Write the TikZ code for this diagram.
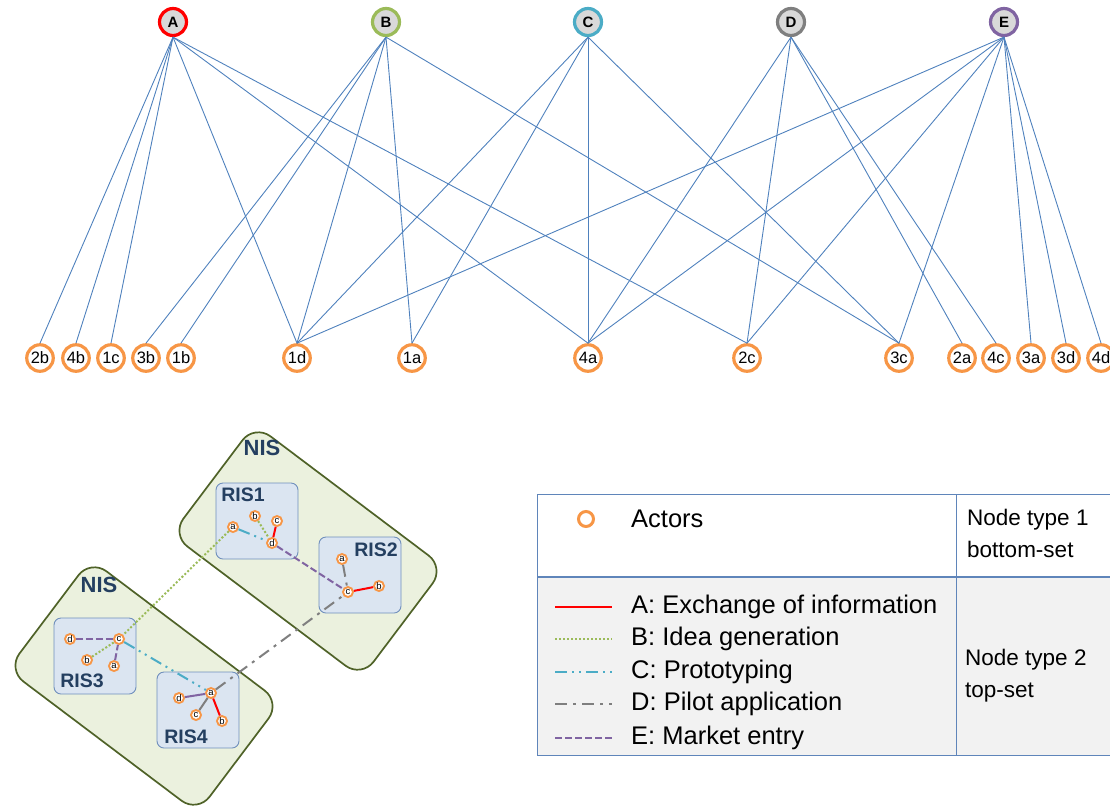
\documentclass[tikz,border=0pt]{standalone}
\usepackage{fontspec}
\setmainfont{Liberation Sans}
\usetikzlibrary{positioning}

\definecolor{tieblue}{HTML}{4F81BD}
\definecolor{actororange}{HTML}{F79646}
\definecolor{phasered}{HTML}{FF0000}
\definecolor{phasegreen}{HTML}{9BBB59}
\definecolor{phasecyan}{HTML}{4BACC6}
\definecolor{phasegray}{HTML}{7F7F7F}
\definecolor{phasepurple}{HTML}{8064A2}
\definecolor{nisfill}{HTML}{EBF1DE}
\definecolor{nisline}{HTML}{4F6228}
\definecolor{risfill}{HTML}{DBE5F1}
\definecolor{risline}{HTML}{6F8FBC}
\definecolor{navy}{HTML}{243F60}
\definecolor{keyline}{HTML}{5F85BA}
\definecolor{keygray}{HTML}{F2F2F2}

\begin{document}
\begin{tikzpicture}[x=1pt, y=-1pt,
  phase/.style={circle, draw=#1, line width=3.2pt, fill=black!15, inner sep=0pt, minimum size=27pt, font=\bfseries\fontsize{15}{15}\selectfont},
  actor/.style={circle, draw=actororange, line width=3.2pt, fill=white, inner sep=0pt, minimum size=26.5pt, font=\fontsize{16.5}{16.5}\selectfont},
  mini/.style={circle, draw=actororange, line width=1.9pt, fill=white, inner sep=0pt, minimum size=10pt, font=\fontsize{9.5}{9.5}\selectfont},
  tie/.style={tieblue, line width=0.9pt},
  nis/.style={draw=nisline, fill=nisfill, line width=1.7pt, rounded corners=20pt, minimum width=238pt, minimum height=138pt, rotate=-37},
  ris/.style={draw=risline, fill=risfill, line width=0.9pt, rounded corners=7pt, minimum width=82pt, minimum height=76pt},
  navylabel/.style={text=navy, font=\bfseries\fontsize{#1}{#1}\selectfont, inner sep=0pt},
  infolink/.style={phasered, line width=2pt},
  idealink/.style={phasegreen, line width=2pt, dash pattern=on 2pt off 2pt},
  protolink/.style={phasecyan, line width=2pt, dash pattern=on 12pt off 5pt on 2pt off 5pt on 2pt off 5pt},
  pilotlink/.style={phasegray, line width=2pt, dash pattern=on 12pt off 6pt on 3pt off 6pt},
  marketlink/.style={phasepurple, line width=2pt, dash pattern=on 7pt off 3pt},
  keytext/.style={anchor=west, inner sep=0pt, font=\fontsize{25.5}{25.5}\selectfont},
  typetext/.style={anchor=west, inner sep=0pt, align=left, font=\fontsize{22.5}{32}\selectfont}]

  \useasboundingbox (0,0) rectangle (1110,807);
  \clip (0,0) rectangle (1110,807);

  % top-set: phases
  \node[phase=phasered] (A) at (173,22) {A};
  \node[phase=phasegreen] (B) at (386,22) {B};
  \node[phase=phasecyan] (C) at (588,22) {C};
  \node[phase=phasegray] (D) at (791,22) {D};
  \node[phase=phasepurple] (E) at (1004,22) {E};

  % bottom-set: actors
  \node[actor] (2b) at (40,358) {2b};
  \node[actor] (4b) at (76,358) {4b};
  \node[actor] (1c) at (111,358) {1c};
  \node[actor] (3b) at (146,358) {3b};
  \node[actor] (1b) at (181,358) {1b};
  \node[actor] (1d) at (297,358) {1d};
  \node[actor] (1a) at (412,358) {1a};
  \node[actor] (4a) at (588,358) {4a};
  \node[actor] (2c) at (747,358) {2c};
  \node[actor] (3c) at (899,358) {3c};
  \node[actor] (2a) at (962,358) {2a};
  \node[actor] (4c) at (996,358) {4c};
  \node[actor] (3a) at (1031,358) {3a};
  \node[actor] (3d) at (1066,358) {3d};
  \node[actor] (4d) at (1101,358) {4d};

  \foreach \b in {2b,4b,1c,1d,4a,2c} \draw[tie] (A.south) -- (\b.north);
  \foreach \b in {3b,1b,1d,1a,3c} \draw[tie] (B.south) -- (\b.north);
  \foreach \b in {1d,1a,4a,3c} \draw[tie] (C.south) -- (\b.north);
  \foreach \b in {4a,2c,2a,4c} \draw[tie] (D.south) -- (\b.north);
  \foreach \b in {1d,4a,2c,3c,3a,3d,4d} \draw[tie] (E.south) -- (\b.north);

  % innovation systems
  \node[nis] (nisup) at (308,551) {};
  \node[nis] (nislow) at (144,686) {};
  \node[navylabel=22] at (262,448) {NIS};
  \node[navylabel=22] at (99,585) {NIS};

  \node[ris] (ris1) at (257,521) {};
  \node[ris] (ris2) at (360,575) {};
  \node[ris] (ris3) at (95,656) {};
  \node[ris] (ris4) at (198,710) {};
  \node[navylabel=19.5] at (243,495) {RIS1};
  \node[navylabel=19.5] at (376,550) {RIS2};
  \node[navylabel=19.5] at (82,681) {RIS3};
  \node[navylabel=19.5] at (186,737) {RIS4};

  \node[mini] (r1a) at (233,527) {a};
  \node[mini] (r1b) at (255,516) {b};
  \node[mini] (r1c) at (277,521) {c};
  \node[mini] (r1d) at (272,543) {d};
  \node[mini] (r2a) at (342,559) {a};
  \node[mini] (r2c) at (348,592) {c};
  \node[mini] (r2b) at (379,586) {b};
  \node[mini] (r3d) at (70,639) {d};
  \node[mini] (r3c) at (119,639) {c};
  \node[mini] (r3b) at (87,660) {b};
  \node[mini] (r3a) at (114,666) {a};
  \node[mini] (r4a) at (211,693) {a};
  \node[mini] (r4d) at (179,698) {d};
  \node[mini] (r4c) at (196,715) {c};
  \node[mini] (r4b) at (222,721) {b};

  \draw[infolink] (r1c) -- (r1d);
  \draw[idealink] (r1b) -- (r1d);
  \draw[protolink] (r1a) -- (r1d);
  \draw[marketlink] (r1d) -- (r2c);
  \draw[pilotlink] (r2a) -- (r2c);
  \draw[infolink] (r2c) -- (r2b);
  \draw[marketlink] (r3d) -- (r3c);
  \draw[idealink] (r3b) -- (r3c);
  \draw[marketlink] (r3a) -- (r3c);
  \draw[idealink] (r1a) -- (r3c);
  \draw[protolink] (r3c) -- (r4a);
  \draw[pilotlink] (r4a) -- (r2c);
  \draw[marketlink, solid] (r4d) -- (r4a);
  \draw[pilotlink, solid] (r4c) -- (r4a);
  \draw[infolink] (r4a) -- (r4b);

  % key
  \fill[keygray] (537,577) rectangle (1120,755);
  \draw[keyline, line width=0.9pt] (537,494) rectangle (1120,755);
  \draw[keyline, line width=1.8pt] (537,577) -- (1120,577);
  \draw[keyline, line width=0.9pt] (956,494) -- (956,755);

  \node[circle, draw=actororange, line width=3pt, minimum size=15pt, inner sep=0pt] (keyactor) at (586,519) {};
  \node[keytext] (actors) at (631,519) {Actors};
  \node[typetext] (type1) at (967,533) {Node type 1\\bottom-set};
  \node[typetext] (type2) at (965,676) {Node type 2\\top-set};

  \coordinate (k1) at (555,607); \coordinate (k1e) at (612,607);
  \coordinate (k2) at (555,639); \coordinate (k2e) at (612,639);
  \coordinate (k3) at (555,672); \coordinate (k3e) at (612,672);
  \coordinate (k4) at (555,704); \coordinate (k4e) at (612,704);
  \coordinate (k5) at (555,738); \coordinate (k5e) at (612,738);
  \draw[infolink] (k1) -- (k1e);
  \draw[idealink] (k2) -- (k2e);
  \draw[protolink] (k3) -- (k3e);
  \draw[pilotlink] (k4) -- (k4e);
  \draw[marketlink] (k5) -- (k5e);
  \node[keytext] at (631,607) {A: Exchange of information};
  \node[keytext] at (631,639) {B: Idea generation};
  \node[keytext] at (631,672) {C: Prototyping};
  \node[keytext] at (631,704) {D: Pilot application};
  \node[keytext] at (631,738) {E: Market entry};
\end{tikzpicture}
\end{document}
